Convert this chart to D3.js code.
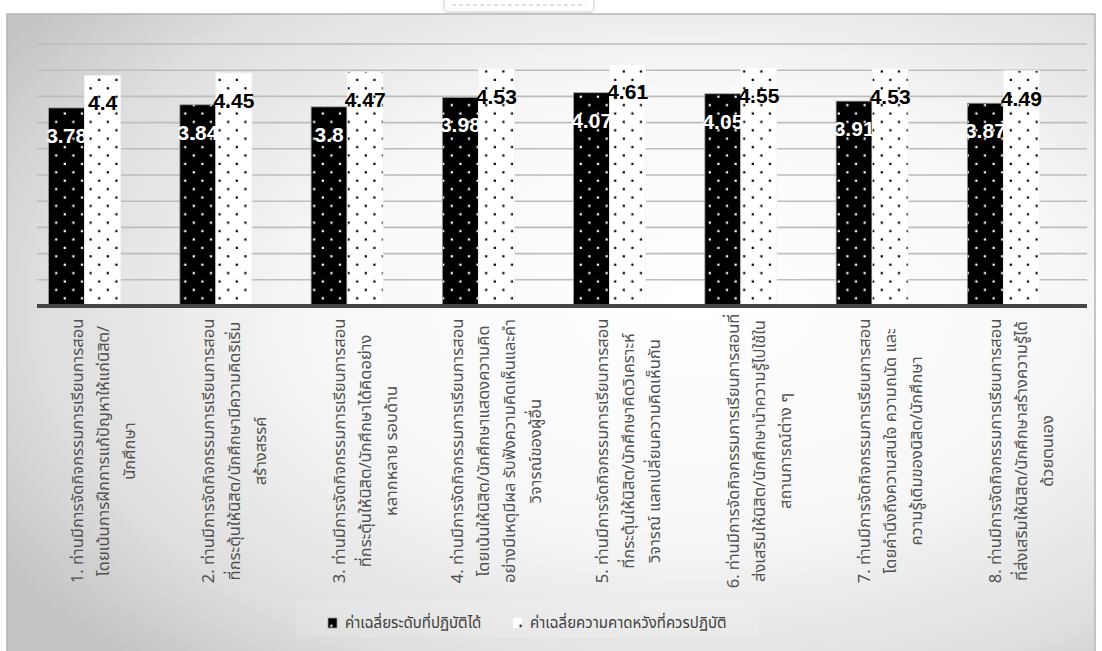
<!DOCTYPE html>
<html>
<head>
<meta charset="utf-8">
<script src="https://cdn.jsdelivr.net/npm/d3@7"></script>
<style>
  html, body { margin: 0; padding: 0; background: #ffffff; }
  svg { display: block; }
</style>
</head>
<body>
<svg id="chart" width="1102" height="651"></svg>
<script>
// ---- data ----
const categories = [
  ["1. ท่านมีการจัดกิจกรรมการเรียนการสอน", "โดยเน้นการฝึกการแก้ปัญหาให้แก่นิสิต/", "นักศึกษา"],
  ["2. ท่านมีการจัดกิจกรรมการเรียนการสอน", "ที่กระตุ้นให้นิสิต/นักศึกษามีความคิดริเริ่ม", "สร้างสรรค์"],
  ["3. ท่านมีการจัดกิจกรรมการเรียนการสอน", "ที่กระตุ้นให้นิสิต/นักศึกษาได้คิดอย่าง", "หลากหลาย รอบด้าน"],
  ["4. ท่านมีการจัดกิจกรรมการเรียนการสอน", "โดยเน้นให้นิสิต/นักศึกษาแสดงความคิด", "อย่างมีเหตุมีผล รับฟังความคิดเห็นและคำ", "วิจารณ์ของผู้อื่น"],
  ["5. ท่านมีการจัดกิจกรรมการเรียนการสอน", "ที่กระตุ้นให้นิสิต/นักศึกษาคิดวิเคราะห์", "วิจารณ์ แลกเปลี่ยนความคิดเห็นกัน"],
  ["6. ท่านมีการจัดกิจกรรมการเรียนการสอนที่", "ส่งเสริมให้นิสิต/นักศึกษานำความรู้ไปใช้ใน", "สถานการณ์ต่าง ๆ"],
  ["7. ท่านมีการจัดกิจกรรมการเรียนการสอน", "โดยคำนึงถึงความสนใจ ความถนัด และ", "ความรู้เดิมของนิสิต/นักศึกษา"],
  ["8. ท่านมีการจัดกิจกรรมการเรียนการสอน", "ที่ส่งเสริมให้นิสิต/นักศึกษาสร้างความรู้ได้", "ด้วยตนเอง"]
];
const seriesNames = ["ค่าเฉลี่ยระดับที่ปฏิบัติได้", "ค่าเฉลี่ยความคาดหวังที่ควรปฏิบัติ"];
const practiced = [3.78, 3.84, 3.8, 3.98, 4.07, 4.05, 3.91, 3.87];
const expected  = [4.4, 4.45, 4.47, 4.53, 4.61, 4.55, 4.53, 4.49];
const yTicks = [0, 0.5, 1, 1.5, 2, 2.5, 3, 3.5, 4, 4.5, 5];

// ---- layout ----
const plot = { left: 37, right: 1087, top: 44, bottom: 306 };
const svg = d3.select("#chart");
const defs = svg.append("defs");

// background gradient
const rg = defs.append("radialGradient").attr("id", "bg")
  .attr("cx", "0.63").attr("cy", "0.45").attr("r", "0.75");
rg.append("stop").attr("offset", "0").attr("stop-color", "#ffffff");
rg.append("stop").attr("offset", "0.45").attr("stop-color", "#f8f8f8");
rg.append("stop").attr("offset", "0.8").attr("stop-color", "#dedede");
rg.append("stop").attr("offset", "1").attr("stop-color", "#c4c4c4");

// dot patterns
function dotPattern(id, bg, fg) {
  const p = defs.append("pattern").attr("id", id)
    .attr("patternUnits", "userSpaceOnUse")
    .attr("width", 17.2).attr("height", 16.8);
  p.append("rect").attr("width", 17.2).attr("height", 16.8).attr("fill", bg);
  p.append("rect").attr("x", 3.5).attr("y", 3.2).attr("width", 2.2).attr("height", 2.2).attr("fill", fg);
  p.append("rect").attr("x", 12.1).attr("y", 11.6).attr("width", 2.2).attr("height", 2.2).attr("fill", fg);
}
dotPattern("dotsBlack", "#000000", "#ffffff");
dotPattern("dotsWhite", "#ffffff", "#000000");

// faint watermark piece at top
svg.append("rect").attr("x", 444).attr("y", -10).attr("width", 150).attr("height", 22)
  .attr("rx", 4).attr("fill", "#ffffff").attr("stroke", "#dcdcdc").attr("stroke-width", 1.5);
svg.append("line").attr("x1", 452).attr("x2", 586).attr("y1", 5).attr("y2", 5)
  .attr("stroke", "#e0e0e0").attr("stroke-width", 2).attr("stroke-dasharray", "4,3");

// chart area
svg.append("rect").attr("x", 7).attr("y", 14).attr("width", 1088).attr("height", 650)
  .attr("fill", "url(#bg)").attr("stroke", "#b4b4b4").attr("stroke-width", 1.5);

// scales
const x = d3.scaleBand().domain(d3.range(categories.length)).range([plot.left, plot.right]);
const xSub = d3.scaleBand().domain([0, 1]).range([-54, 18]);
const y = d3.scaleLinear().domain([0, 5]).range([plot.bottom, plot.top]);

// gridlines
svg.append("g").selectAll("line").data(yTicks.slice(1)).join("line")
  .attr("x1", plot.left).attr("x2", plot.right)
  .attr("y1", d => y(d)).attr("y2", d => y(d))
  .attr("stroke", "#bdbdbd").attr("stroke-width", 1.6);

// bars
const seriesData = [practiced, expected];
const fills = ["url(#dotsBlack)", "url(#dotsWhite)"];
const barsG = svg.append("g");
seriesData.forEach((vals, si) => {
  barsG.append("g").selectAll("rect").data(vals).join("rect")
    .attr("x", (d, i) => x(i) + x.bandwidth() / 2 + xSub(si))
    .attr("y", d => y(d))
    .attr("width", xSub.bandwidth())
    .attr("height", d => y(0) - y(d))
    .attr("fill", fills[si])
    .attr("stroke", si === 0 ? "#9a9a9a" : "#f2f2f2")
    .attr("stroke-width", 0.8);
});

// axis baseline
svg.append("line").attr("x1", plot.left).attr("x2", plot.right)
  .attr("y1", y(0)).attr("y2", y(0))
  .attr("stroke", "#454545").attr("stroke-width", 4);

// value labels
seriesData.forEach((vals, si) => {
  svg.append("g").selectAll("text").data(vals).join("text")
    .attr("x", (d, i) => x(i) + x.bandwidth() / 2 + xSub(si) + xSub.bandwidth() / 2)
    .attr("y", d => y(d) + 35)
    .attr("text-anchor", "middle")
    .attr("font-family", "'Liberation Sans', Arial, sans-serif")
    .attr("font-weight", "bold")
    .attr("font-size", 21)
    .attr("fill", si === 0 ? "#ffffff" : "#000000")
    .text(d => String(d));
});

// category labels (rotated)
const labelFont = "'Noto Sans Thai', 'Noto Sans', 'DejaVu Sans', sans-serif";
const lineGap = 26;
const catG = svg.append("g");
categories.forEach((lines, i) => {
  const cx = x(i) + x.bandwidth() / 2;
  const n = lines.length;
  const g = catG.append("g")
    .attr("transform", `translate(${cx},${451}) rotate(-90)`);
  g.selectAll("text").data(lines).join("text")
    .attr("x", 0)
    .attr("y", (d, k) => (k - (n - 1) / 2) * lineGap + 6)
    .attr("text-anchor", "middle")
    .attr("font-family", labelFont)
    .attr("font-size", 16.5)
    .attr("fill", "#505050")
    .text(d => d);
});

// legend
const leg = svg.append("g");
leg.append("rect").attr("x", 295).attr("y", 600).attr("width", 463).attr("height", 37)
  .attr("fill", "#ffffff").attr("fill-opacity", 0.12);
const legItems = [
  { name: seriesNames[0], fill: "url(#dotsBlack)", mx: 328, tx: 345 },
  { name: seriesNames[1], fill: "url(#dotsWhite)", mx: 513, tx: 530 }
];
legItems.forEach((it, k) => {
  leg.append("rect").attr("x", it.mx).attr("y", 618).attr("width", 9).attr("height", 10)
    .attr("fill", it.fill).attr("stroke", k === 0 ? "#9a9a9a" : "none").attr("stroke-width", 0.8);
  leg.append("text").attr("x", it.tx).attr("y", 628)
    .attr("font-family", labelFont).attr("font-size", 15).attr("fill", "#404040")
    .text(it.name);
});
</script>
</body>
</html>
